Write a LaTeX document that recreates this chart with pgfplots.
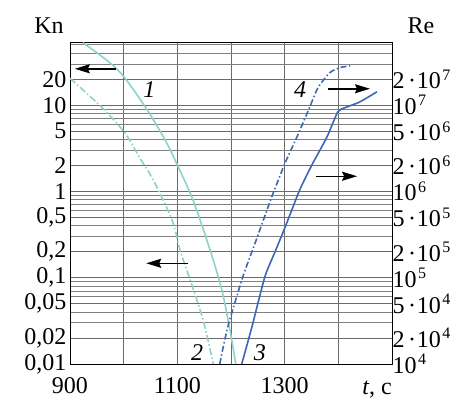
\documentclass[border=0pt]{standalone}
\usepackage{fontspec}
\setmainfont{Liberation Serif}
\usepackage{pgfplots}
\pgfplotsset{compat=1.18}
\usetikzlibrary{arrows.meta}
\definecolor{cyanc}{HTML}{8CD3C9}
\definecolor{bluec}{HTML}{3F66B5}
\definecolor{gridc}{HTML}{6A6A6A}
\newcommand{\fs}{\fontsize{24}{26}\selectfont}
\newcommand{\rp}[1]{10\raisebox{0.36em}{\fontsize{16}{16}\selectfont\hspace{0.1em}#1}}
\newcommand{\re}[2]{#1\hspace{0.15em}·\hspace{0.03em}\rp{#2}}
\begin{document}
\begin{tikzpicture}
\useasboundingbox (-70pt,-37pt) rectangle (399pt,364pt);
\begin{axis}[at={(0,0)},anchor=south west,scale only axis,width=322pt,height=322pt,
  xmin=900,xmax=1500,ymode=log,ymin=0.01,ymax=54,
  xtick={900,1000,1100,1200,1300,1400,1500},
  xticklabels={900,,1100,,1300,,},
  ytick={0.01,0.02,0.05,0.1,0.2,0.5,1,2,5,10,20},
  yticklabels={{0,01},{0,02},{0,05},{0,1},{0,2},{0,5},1,2,5,10,20},
  minor ytick={0.03,0.04,0.06,0.07,0.08,0.09,0.3,0.4,0.6,0.7,0.8,0.9,3,4,6,7,8,9,30,40,50},
  grid=both,
  major grid style={gridc,line width=0.8pt},
  minor grid style={gridc!85,line width=0.8pt},
  tick style={draw=none},
  tick label style={font=\fs},
  yticklabel style={inner ysep=0pt},
  xticklabel style={anchor=base,yshift=-30pt,inner sep=0pt},
  axis line style={black,line width=0.9pt},
]
\addplot[cyanc,line width=1.6pt,smooth,tension=0.5] coordinates {
(924,53) (989,25.7) (1040,9.6) (1077,3.97) (1099,2.09) (1129,0.80) (1161,0.21) (1183,0.072) (1198,0.0248) (1209,0.010)};
\addplot[cyanc,line width=1.6pt,smooth,tension=0.5,dash pattern=on 7pt off 2.5pt on 1.5pt off 2.5pt] coordinates {
(900,20.5) (958,9.6) (1002,4.79) (1032,2.33) (1055,1.36) (1090,0.469) (1105,0.21) (1124,0.094) (1148,0.0324) (1167,0.010)};
\node[font=\fs\itshape] at (axis cs:1048,15.2) {1};
\node[font=\fs\itshape] at (axis cs:1137,0.0134) {2};
\node[font=\fs\itshape] at (axis cs:1254,0.0134) {3};
\node[font=\fs\itshape] at (axis cs:1329,15.0) {4};
\draw[line width=1.5pt,-{Stealth[length=15pt,width=9pt,inset=2pt]}] (axis cs:986,26.4) -- (axis cs:909,26.4);
\draw[line width=1.5pt,-{Stealth[length=15pt,width=9pt,inset=2pt]}] (axis cs:1120,0.147) -- (axis cs:1042,0.147);
\end{axis}
\begin{axis}[at={(0,0)},anchor=south west,scale only axis,width=322pt,height=322pt,
  xmin=900,xmax=1500,ymode=log,ymin=1e4,ymax=5.4e7,
  hide x axis, axis y line*=right, y axis line style={draw=none},
  ytick={1e4,2e4,5e4,1e5,2e5,5e5,1e6,2e6,5e6,1e7,2e7},
  yticklabels={\rp{4},\re{2}{4},\re{5}{4},\rp{5},\re{2}{5},\re{5}{5},\rp{6},\re{2}{6},\re{5}{6},\rp{7},\re{2}{7}},
  yticklabel style={anchor=west,font=\fs,xshift=-3pt,inner ysep=0pt},
  tick style={draw=none},
]
\addplot[bluec,line width=1.6pt,smooth,tension=0.35] coordinates {
(1220,1e4) (1239,2.69e4) (1263,1.02e5) (1282,1.99e5) (1301,3.88e5) (1328,1.04e6) (1351,2.04e6) (1379,4.30e6) (1399,8.38e6) (1412,9.33e6) (1440,1.09e7) (1472,1.43e7)};
\addplot[bluec,line width=1.6pt,smooth,tension=0.4,dash pattern=on 6pt off 2.5pt on 1.5pt off 2.5pt] coordinates {
(1179,1e4) (1194,2.69e4) (1222,1.02e5) (1245,2.53e5) (1276,8.66e5) (1301,2.15e6) (1323,4.30e6) (1347,9.58e6) (1362,1.59e7) (1384,2.38e7) (1403,2.72e7) (1422,2.86e7)};
\draw[line width=1.5pt,-{Stealth[length=15pt,width=9pt,inset=2pt]}] (axis cs:1381,1.55e7) -- (axis cs:1459,1.55e7);
\draw[line width=1.5pt,-{Stealth[length=15pt,width=9pt,inset=2pt]}] (axis cs:1358,1.50e6) -- (axis cs:1435,1.50e6);
\end{axis}
\node[font=\fs] at (-21pt,338pt) {Kn};
\node[font=\fs] at (351pt,338pt) {Re};
\node[font=\fs,anchor=base east,inner sep=0pt] at (322pt,-31pt) {\textit{t}, c};
\end{tikzpicture}
\end{document}
